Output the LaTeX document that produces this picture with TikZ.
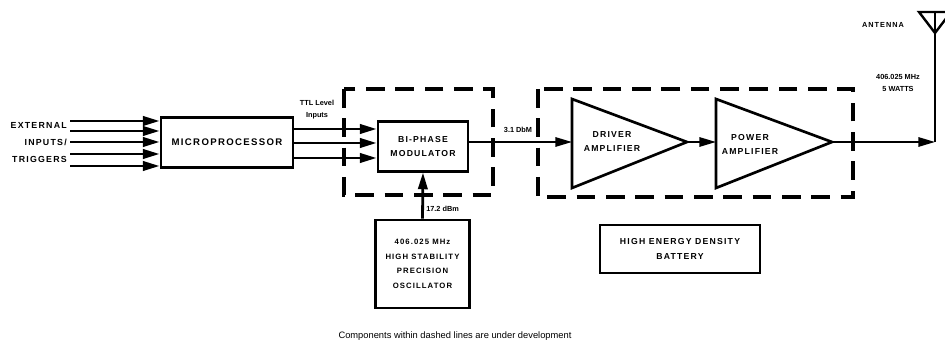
\documentclass[tikz,border=0pt]{standalone}
\usepackage{fontspec}
\setmainfont{Liberation Sans}
\newfontfamily\spacedfont[LetterSpace=14]{Liberation Sans}
\usetikzlibrary{arrows.meta}

\tikzset{
  blk/.style={line width=2pt, line join=miter},
  sig/.style={line width=2.1pt, -{Triangle[length=12.5pt,width=7pt]}},
  wire/.style={line width=1.5pt},
  devbox/.style={line width=2.4pt, dash pattern=on 14pt off 8pt},
  unit/.style={draw, line width=2.1pt, align=center, inner sep=0pt,
    font=\spacedfont\fontsize{6.5}{11}\selectfont\bfseries},
  tag/.style={font=\fontsize{5.5}{8}\selectfont\bfseries, align=center, inner sep=0pt},
  amptext/.style={font=\spacedfont\fontsize{6.5}{11}\selectfont\bfseries, align=center, inner sep=0pt}
}

\begin{document}
\begin{tikzpicture}[x=0.75pt,y=0.75pt,yscale=-1,xscale=1]
\useasboundingbox (0,0) rectangle (945,348);

%Shape: Blocks
\node[unit, minimum width=99pt, minimum height=37.5pt, font=\spacedfont\fontsize{7.2}{11}\selectfont\bfseries] (mp) at (227,142.5) {MICROPROCESSOR};
\node[unit, minimum width=67.5pt, minimum height=37pt] (mod) at (423,146.5) {BI-PHASE\\MODULATOR};
\node[unit, minimum width=71pt, minimum height=66pt, font=\spacedfont\fontsize{5.8}{11}\selectfont\bfseries] (osc) at (422.5,264) {406.025 MHz\\HIGH STABILITY\\PRECISION\\OSCILLATOR};
\node[unit, minimum width=120pt, minimum height=36pt] (bat) at (680,249) {HIGH ENERGY DENSITY\\BATTERY};

%Shape: Dashed boxes
\draw[devbox] (344,89) rectangle (493,195);
\draw[devbox] (538,89) rectangle (853,197);

%Shape: Amplifiers
\coordinate (drvin) at (572,142);
\coordinate (drvout) at (687,142);
\coordinate (pwrin) at (716,142);
\coordinate (pwrout) at (832,142);
\draw[blk] (572,99) -- (drvout) -- (572,188) -- cycle;
\draw[blk] (716,99) -- (pwrout) -- (716,188) -- cycle;
\node[amptext] (drvtxt) at (612,141.5) {DRIVER\\AMPLIFIER};
\node[amptext] (pwrtxt) at (750,144.5) {POWER\\AMPLIFIER};

%Shape: Antenna
\coordinate (antfoot) at (935,142);
\coordinate (antbase) at (935,33);
\coordinate (anttop) at (935,12);
\draw[blk, line width=1.8pt] (919,12) -- (951,12) -- (antbase) -- cycle;
\draw[wire] (anttop) -- (antfoot);

%Straight Lines: inputs
\coordinate (extin) at (70,142);
\foreach \y in {121,131,142,154,166}
  \draw[sig] (extin |- 0,\y) -- (mp.west |- 0,\y);
\foreach \y in {129,143,158}
  \draw[sig] (mp.east |- 0,\y) -- (mod.west |- 0,\y);

%Straight Lines: signal chain
\draw[sig, line width=1.5pt] (mod.east |- drvin) -- (drvin);
\draw[sig, line width=1.5pt] (drvout) -- (pwrin);
\draw[sig, line width=1.5pt] (pwrout) -- (antfoot);
\draw[sig] (osc.north) -- (mod.south);

% Text Node
\node[amptext, font=\spacedfont\fontsize{6.6}{12.4}\selectfont\bfseries, align=right, anchor=east] (extlbl) at (67,142.5) {EXTERNAL\\INPUTS/\\TRIGGERS};
% Text Node
\node[tag, font=\fontsize{5.5}{9}\selectfont\bfseries] (ttl) at (317,110) {TTL Level\\Inputs};
% Text Node
\node[tag] (pin) at (518,129.5) {3.1 DbM};
% Text Node
\node[tag, anchor=west] (pref) at (426,209) {17.2 dBm};
% Text Node
\node[tag, font=\spacedfont\fontsize{5.5}{8}\selectfont\bfseries] (antlbl) at (883,25) {ANTENNA};
% Text Node
\node[tag, font=\fontsize{5.5}{9}\selectfont\bfseries] (pout) at (898,83) {406.025 MHz\\5 WATTS};
% Text Node
\node[inner sep=0pt, font=\fontsize{7}{8}\selectfont] (note) at (455,336) {Components within dashed lines are under development};

\end{tikzpicture}
\end{document}
